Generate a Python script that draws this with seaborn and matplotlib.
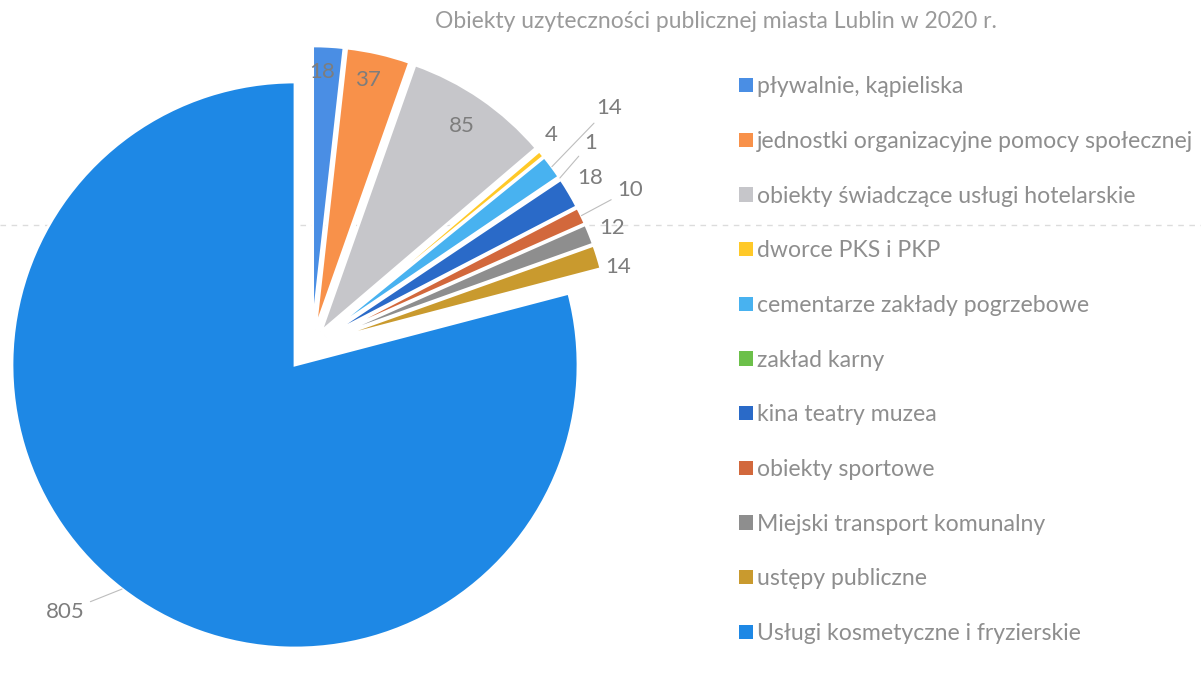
import numpy as np
import matplotlib
matplotlib.use("Agg")
import matplotlib.pyplot as plt
from matplotlib.patches import Patch
from matplotlib.lines import Line2D
import seaborn as sns

# ---- data ----
categories = [
    "pływalnie, kąpieliska",
    "jednostki organizacyjne pomocy społecznej",
    "obiekty świadczące usługi hotelarskie",
    "dworce PKS i PKP",
    "cementarze zakłady pogrzebowe",
    "zakład karny",
    "kina teatry muzea",
    "obiekty sportowe",
    "Miejski transport komunalny",
    "ustępy publiczne",
    "Usługi kosmetyczne i fryzierskie",
]
values = [18, 37, 85, 4, 14, 1, 18, 10, 12, 14, 805]
title = "Obiekty uzyteczności publicznej miasta Lublin w 2020 r."

# ---- style ----
colors = ["#4A8EE4", "#F8914A", "#C6C6CA", "#FFC928", "#48B2F0", "#6CC04A",
          "#2A6AC8", "#D2683C", "#8E8E8E", "#C99A2E", "#1E88E5"]
explode = [0.057] * 10 + [0.0]
group_shift = (0.092 * np.cos(np.radians(50)), 0.092 * np.sin(np.radians(50)))
# label placement (radius factor, angle offset in degrees, leader line?)
lab_r = [0.91, 0.90, 0.88, 1.07, 1.251, 1.141, 1.09, 1.153, 1.08, 1.06, 1.146]
lab_dth = [1.0, 1.0, 0.0, 1.5, 3.4, 2.8, 0.5, 1.4, -0.5, -3.0, -2.8]
leader = [False, False, False, False, True, True, False, True, False, False, True]

sns.set_theme(style="white")
plt.rcParams["font.family"] = ["Lato", "DejaVu Sans"]

W, H = 1201, 675
fig = plt.figure(figsize=(W / 100, H / 100), dpi=100)
fig.patch.set_facecolor("white")

R_PX = 283.0
CX, CY = 295.0, 365.0
AX_W = 600
ax = fig.add_axes([0, 0, AX_W / W, 1])
wedges, _ = ax.pie(values, colors=colors, startangle=90, counterclock=False,
                   explode=explode, radius=1.0,
                   wedgeprops=dict(edgecolor="white", linewidth=2.0))
for w in wedges[:-1]:
    c = w.center
    w.set_center((c[0] + group_shift[0], c[1] + group_shift[1]))

ax.set_xlim(-CX / R_PX, (AX_W - CX) / R_PX)
ax.set_ylim(-(H - CY) / R_PX, CY / R_PX)
ax.set_aspect("equal")
ax.axis("off")

label_color = "#7d7d7d"
LFS = 16
for i, w in enumerate(wedges):
    mid = 0.5 * (w.theta1 + w.theta2)
    cx, cy = w.center
    th = np.radians(mid + lab_dth[i])
    tx, ty = cx + lab_r[i] * np.cos(th), cy + lab_r[i] * np.sin(th)
    txt = str(values[i])
    if leader[i]:
        m = np.radians(mid)
        ex, ey = cx + 1.0 * np.cos(m), cy + 1.0 * np.sin(m)
        ha = "right" if tx < cx else "left"
        ax.annotate(txt, xy=(ex, ey), xytext=(tx, ty), ha=ha, va="center",
                    fontsize=LFS, color=label_color,
                    arrowprops=dict(arrowstyle="-", color="#bdbdbd", lw=0.8,
                                    shrinkA=2, shrinkB=0))
    else:
        ax.text(tx, ty, txt, ha="center", va="center", fontsize=LFS,
                color=label_color)

# faint dashed scan line
fig.add_artist(Line2D([0, 1], [1 - 225 / H, 1 - 225 / H], transform=fig.transFigure,
                      color="#dcdcdc", lw=1.0, ls=(0, (4, 4)), zorder=0))

fig.text(716 / W, 1 - 22 / H, title, ha="center", va="center", fontsize=16.5,
         color="#9a9a9a")

handles = [Patch(facecolor=c, edgecolor="none") for c in colors]
leg = fig.legend(handles, categories, loc="upper left",
                 bbox_to_anchor=(730 / W, 1 - 67 / H), frameon=False,
                 fontsize=16.6, handlelength=0.58, handleheight=0.58,
                 handletextpad=0.2, labelspacing=1.46, borderaxespad=0)
for t in leg.get_texts():
    t.set_color("#8e8e8e")

fig.savefig("out.png", dpi=100, facecolor="white")
